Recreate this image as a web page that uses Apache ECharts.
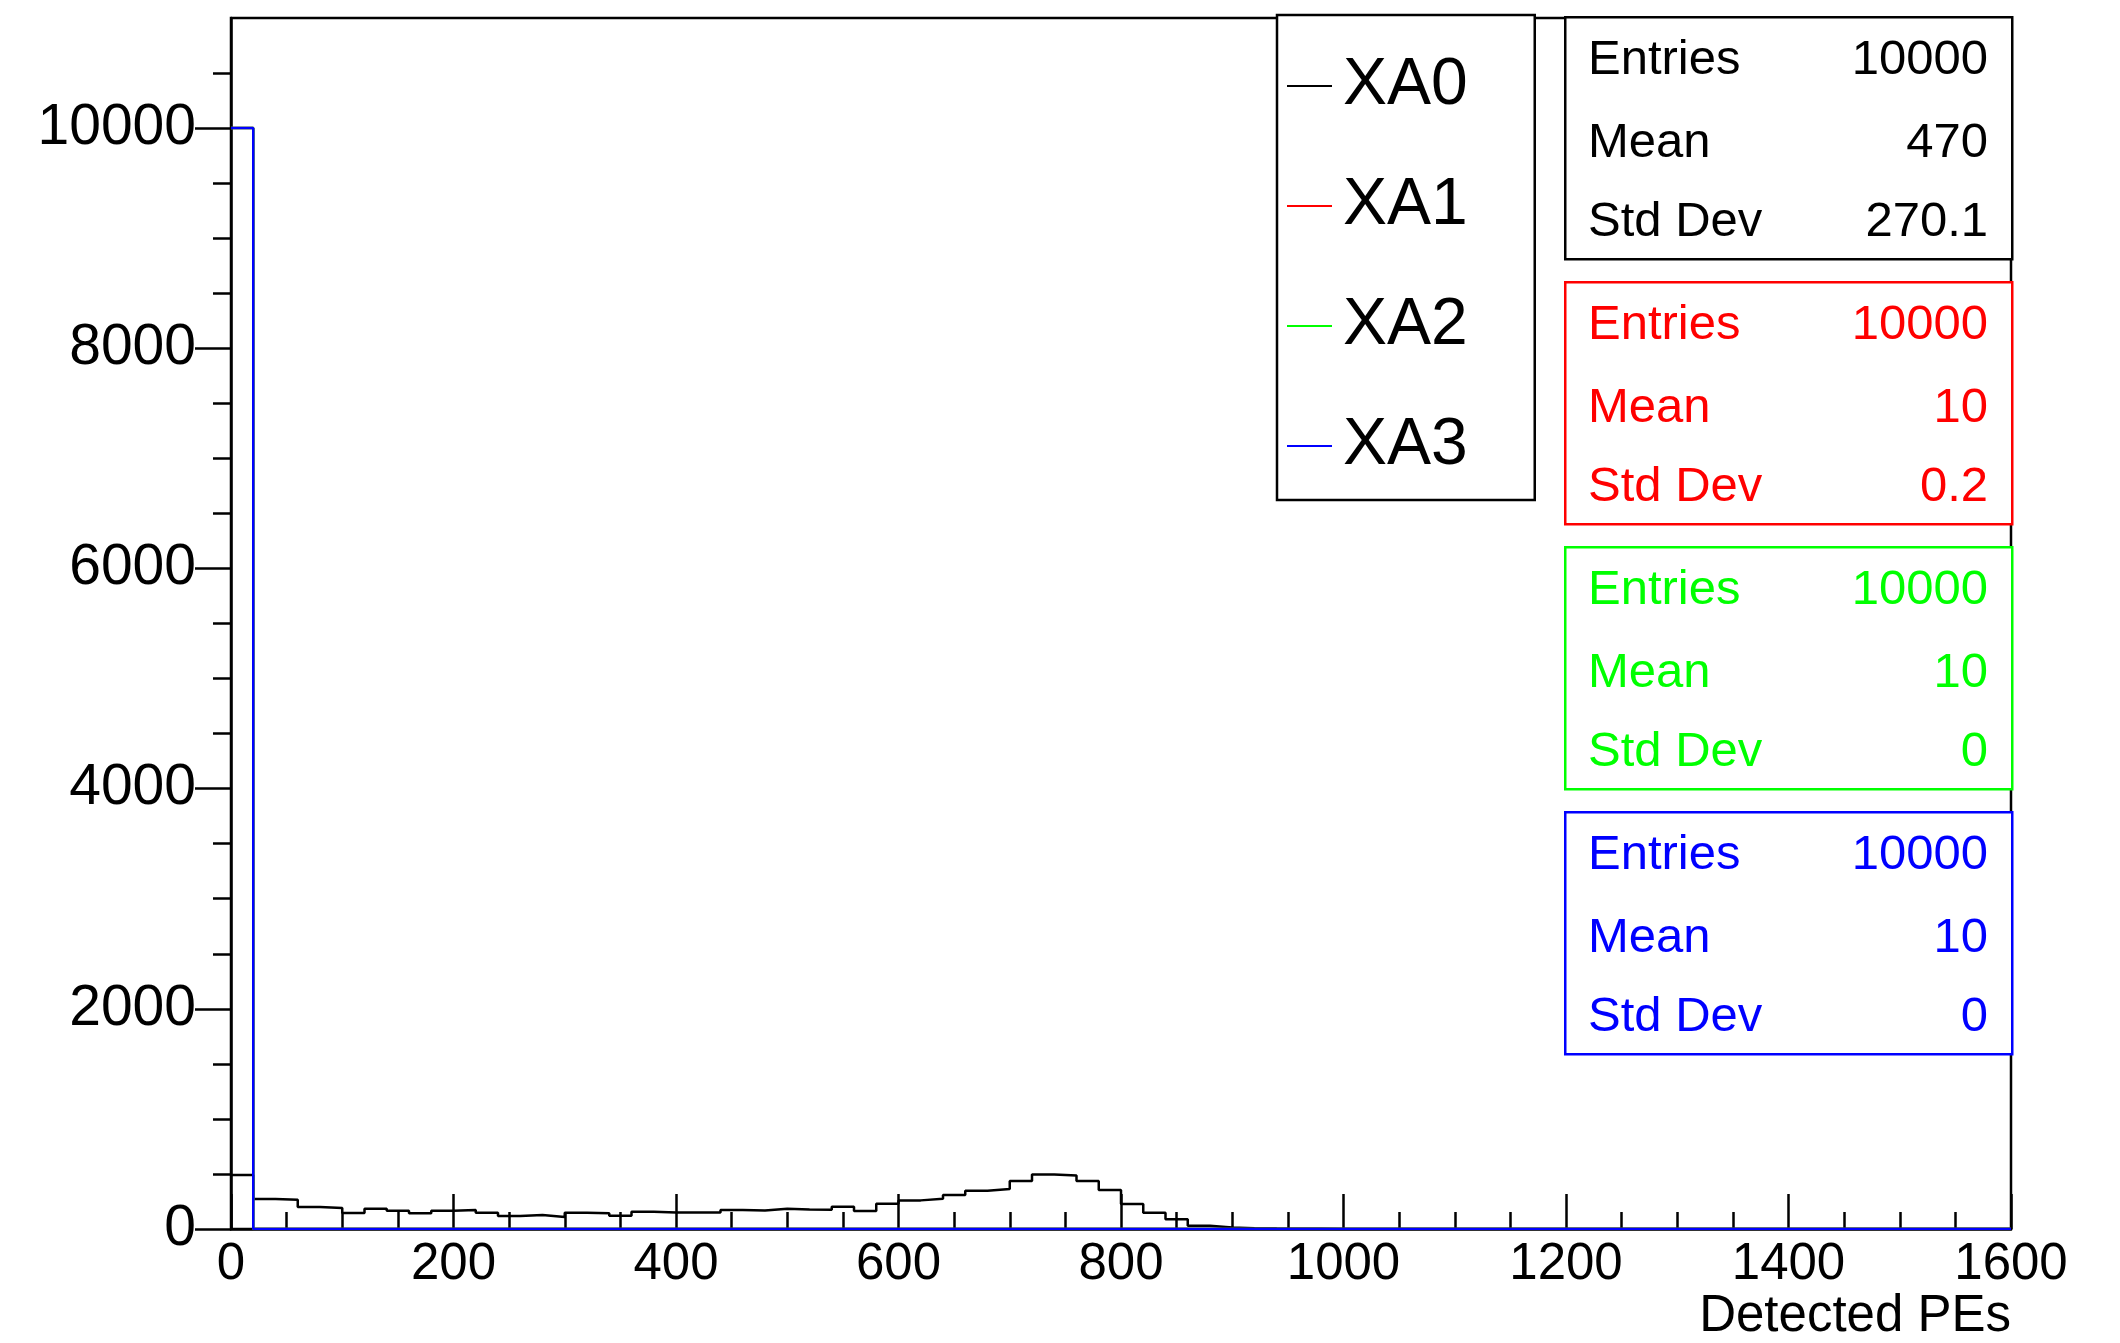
<!DOCTYPE html>
<html>
<head>
<meta charset="utf-8">
<script src="https://cdn.jsdelivr.net/npm/echarts@6/dist/echarts.min.js"></script>
<style>
html,body{margin:0;padding:0;background:#fff;}
#chart{width:2120px;height:1343px;}
</style>
</head>
<body>
<div id="chart"></div>
<script>
// ---- Data ----
const binWidth = 20;
const xMin = 0;
const xMax = 1600;
const yMax = 11000;
const seriesNames = ['XA0', 'XA1', 'XA2', 'XA3'];
const seriesColors = ['#000000', '#ff0000', '#00ff00', '#0000ff'];

const xa0Counts = [
  490, 272, 266, 200, 191, 145, 185, 166, 142, 166,
  172, 148, 118, 127, 109, 148, 142, 121, 157, 151,
  151, 151, 172, 169, 185, 178, 175, 203, 163, 230,
  260, 275, 309, 348, 363, 436, 496, 487, 436, 354,
  227, 148, 88, 30, 14, 6, 4, 3, 2, 1,
  0, 0, 0, 0, 0, 0, 0, 0, 0, 0,
  0, 0, 0, 0, 0, 0, 0, 0, 0, 0,
  0, 0, 0, 0, 0, 0, 0, 0, 0, 0
];
const xa1Counts = [
  10000, 0, 0, 0, 0, 0, 0, 0, 0, 0,
  0, 0, 0, 0, 0, 0, 0, 0, 0, 0,
  0, 0, 0, 0, 0, 0, 0, 0, 0, 0,
  0, 0, 0, 0, 0, 0, 0, 0, 0, 0,
  0, 0, 0, 0, 0, 0, 0, 0, 0, 0,
  0, 0, 0, 0, 0, 0, 0, 0, 0, 0,
  0, 0, 0, 0, 0, 0, 0, 0, 0, 0,
  0, 0, 0, 0, 0, 0, 0, 0, 0, 0
];
const xa2Counts = [
  10000, 0, 0, 0, 0, 0, 0, 0, 0, 0,
  0, 0, 0, 0, 0, 0, 0, 0, 0, 0,
  0, 0, 0, 0, 0, 0, 0, 0, 0, 0,
  0, 0, 0, 0, 0, 0, 0, 0, 0, 0,
  0, 0, 0, 0, 0, 0, 0, 0, 0, 0,
  0, 0, 0, 0, 0, 0, 0, 0, 0, 0,
  0, 0, 0, 0, 0, 0, 0, 0, 0, 0,
  0, 0, 0, 0, 0, 0, 0, 0, 0, 0
];
const xa3Counts = [
  10000, 0, 0, 0, 0, 0, 0, 0, 0, 0,
  0, 0, 0, 0, 0, 0, 0, 0, 0, 0,
  0, 0, 0, 0, 0, 0, 0, 0, 0, 0,
  0, 0, 0, 0, 0, 0, 0, 0, 0, 0,
  0, 0, 0, 0, 0, 0, 0, 0, 0, 0,
  0, 0, 0, 0, 0, 0, 0, 0, 0, 0,
  0, 0, 0, 0, 0, 0, 0, 0, 0, 0,
  0, 0, 0, 0, 0, 0, 0, 0, 0, 0
];

const yMajorTicks = [0, 2000, 4000, 6000, 8000, 10000];
const yMinorTicks = [500, 1000, 1500, 2500, 3000, 3500, 4500, 5000, 5500, 6500, 7000, 7500, 8500, 9000, 9500, 10500];
const xTickInterval = 200;
const xAxisTitle = 'Detected PEs';

const statLabels = ['Entries', 'Mean', 'Std Dev'];
const statEntries = ['10000', '10000', '10000', '10000'];
const statMeans = ['470', '10', '10', '10'];
const statStdDevs = ['270.1', '0.2', '0', '0'];

// ---- Build ----
const FONT = "'Liberation Sans', Arial, Helvetica, sans-serif";
const allCounts = [xa0Counts, xa1Counts, xa2Counts, xa3Counts];

function histPoints(counts) {
  const pts = [];
  counts.forEach((c, i) => {
    pts.push([xMin + i * binWidth, c]);
    pts.push([xMin + (i + 1) * binWidth, c]);
  });
  pts.push([xMin + counts.length * binWidth, 0]);
  return pts;
}

const series = seriesNames.map((name, i) => ({
  name: name,
  type: 'line',
  data: histPoints(allCounts[i]),
  symbol: 'none',
  color: seriesColors[i],
  lineStyle: { color: seriesColors[i], width: 2.5 },
  animation: false,
  z: 2 + i
}));

// stats boxes
const graphics = [];
const boxX = 1564, boxW = 447, boxH = 242, boxStep = 265, boxTop0 = 16;
const rowMid = [44, 127, 206];
for (let i = 0; i < 4; i++) {
  const top = boxTop0 + i * boxStep;
  const col = seriesColors[i];
  graphics.push({
    type: 'rect', left: boxX, top: top, z: 100,
    shape: { width: boxW, height: boxH },
    style: { fill: '#fff', stroke: col, lineWidth: 2.5 }
  });
  const vals = [statEntries[i], statMeans[i], statStdDevs[i]];
  for (let r = 0; r < 3; r++) {
    graphics.push({
      type: 'text', x: 1588, y: top + rowMid[r], z: 101,
      style: { text: statLabels[r], fill: col, font: '49px ' + FONT, textAlign: 'left', textVerticalAlign: 'middle' }
    });
    graphics.push({
      type: 'text', x: 1988, y: top + rowMid[r], z: 101,
      style: { text: vals[r], fill: col, font: '49px ' + FONT, textAlign: 'right', textVerticalAlign: 'middle' }
    });
  }
}

const plainNum = v => String(v);

const chart = echarts.init(document.getElementById('chart'), null, { renderer: 'canvas' });
chart.setOption({
  backgroundColor: '#ffffff',
  animation: false,
  textStyle: { fontFamily: FONT },
  grid: {
    left: 231, top: 18, right: 109, bottom: 114,
    show: true, borderColor: '#000', borderWidth: 2.5, backgroundColor: 'transparent'
  },
  legend: {
    orient: 'vertical',
    left: 1277, top: 15,
    padding: [38, 67, 21, 10],
    itemWidth: 45, itemHeight: 2, itemGap: 54,
    icon: 'rect',
    backgroundColor: '#fff',
    borderColor: '#000', borderWidth: 2.5,
    z: 50,
    textStyle: { fontSize: 66, lineHeight: 66, color: '#000', fontFamily: FONT, padding: [0, 0, 0, 6] },
    data: seriesNames
  },
  xAxis: {
    type: 'value', min: xMin, max: xMax, interval: xTickInterval,
    name: xAxisTitle, nameLocation: 'end', nameGap: 0,
    nameTextStyle: { fontSize: 51, color: '#000', align: 'right', verticalAlign: 'top', padding: [62, 0, 0, 0], fontFamily: FONT },
    axisLine: { show: true, lineStyle: { color: '#000', width: 2.5 } },
    axisTick: { show: true, inside: true, length: 35, lineStyle: { color: '#000', width: 2.5 } },
    minorTick: { show: true, splitNumber: 4, length: 17, lineStyle: { color: '#000', width: 2.5 } },
    axisLabel: { fontSize: 51, color: '#000', margin: 10, fontFamily: FONT, formatter: plainNum },
    splitLine: { show: false },
    minorSplitLine: { show: false }
  },
  yAxis: [
    {
      type: 'value', min: 0, max: yMax, interval: 2000,
      axisLine: { show: true, lineStyle: { color: '#000', width: 2.5 } },
      axisTick: { show: true, inside: false, length: 36, lineStyle: { color: '#000', width: 2.5 }, customValues: yMajorTicks },
      axisLabel: { fontSize: 57, color: '#000', margin: 35, fontFamily: FONT, customValues: yMajorTicks, formatter: plainNum },
      splitLine: { show: false }
    },
    {
      type: 'value', min: 0, max: yMax, interval: 500, position: 'left', offset: 0,
      axisLine: { show: false },
      axisTick: { show: true, inside: false, length: 18, lineStyle: { color: '#000', width: 2.5 }, customValues: yMinorTicks },
      axisLabel: { show: false },
      splitLine: { show: false }
    }
  ],
  series: series,
  graphic: graphics
});
</script>
</body>
</html>
